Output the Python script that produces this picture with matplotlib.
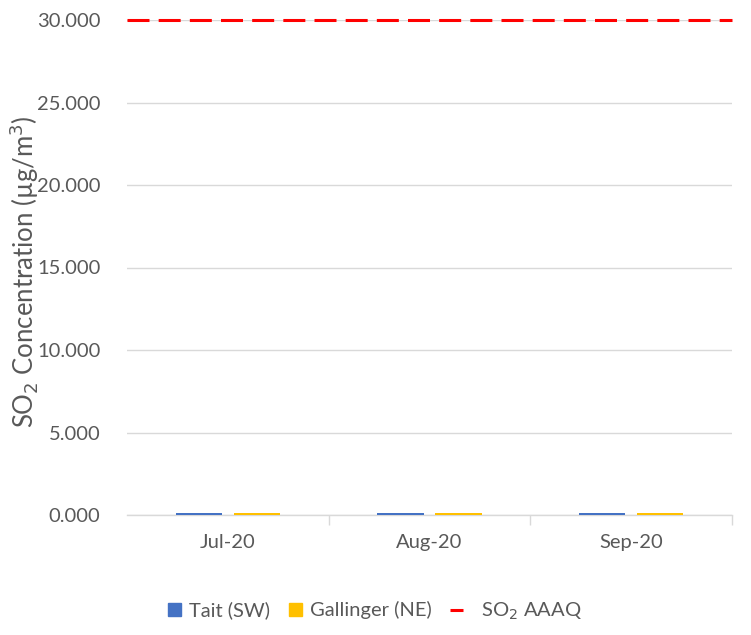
import matplotlib
matplotlib.use("Agg")
import matplotlib.pyplot as plt
import numpy as np
from matplotlib.lines import Line2D
from matplotlib.patches import Patch

plt.rcParams['font.family'] = ['Lato', 'DejaVu Sans']

months = ["Jul-20", "Aug-20", "Sep-20"]
tait = [0.1, 0.1, 0.1]
gallinger = [0.1, 0.1, 0.1]
aaaq = 30.0
yticks = [0, 5, 10, 15, 20, 25, 30]

c_tait = "#4472C4"
c_gall = "#FFC000"
c_red = "#FF0000"
c_text = "#595959"
c_grid = "#D9D9D9"

fig = plt.figure(figsize=(7.51, 6.35), dpi=100)
ax = fig.add_axes([127/751, 1-515/635, (732-127)/751, (515-20)/635])

x = np.arange(len(months))
w = 0.23
ax.bar(x - 0.144, tait, width=w, color=c_tait, zorder=3)
ax.bar(x + 0.144, gallinger, width=w, color=c_gall, zorder=3)
ax.axhline(aaaq, color=c_red, lw=2.2, dashes=(7.2, 3), zorder=4, clip_on=False)

ax.set_xlim(-0.5, 2.5)
ax.set_ylim(0, 30)
ax.set_yticks(yticks)
ax.set_yticklabels([f"{v:.3f}" for v in yticks], fontsize=14.5, color=c_text)
ax.set_xticks(x)
ax.set_xticklabels(months, fontsize=14.5, color=c_text)
ax.tick_params(axis='y', length=0, pad=19)
ax.tick_params(axis='x', length=0, pad=14)
ax.set_xticks([0.5, 1.5, 2.5], minor=True)
ax.tick_params(axis='x', which='minor', length=7, color=c_grid, width=1)
ax.yaxis.grid(True, color=c_grid, lw=1, zorder=0)
for s in ['top', 'right', 'left']:
    ax.spines[s].set_visible(False)
ax.spines['bottom'].set_color(c_grid)
ax.spines['bottom'].set_linewidth(1)

fig.text(24/751, 1-272/635, "SO$_2$ Concentration (µg/m$^3$)", rotation=90,
         ha='center', va='center', fontsize=18.5, color=c_text)

handles = [Patch(color=c_tait), Patch(color=c_gall),
           Line2D([0], [0], color=c_red, lw=2.2, solid_capstyle='butt')]
labels = ["Tait (SW)", "Gallinger (NE)", "  SO$_2$ AAAQ"]
leg = fig.legend(handles, labels, loc='center', bbox_to_anchor=(375/751, 1-611/635),
                 ncol=3, frameon=False, fontsize=14.5, handlelength=0.65, handleheight=0.6,
                 handletextpad=0.4, columnspacing=0.9)
for t in leg.get_texts():
    t.set_color(c_text)

fig.savefig("out.png", dpi=100)
